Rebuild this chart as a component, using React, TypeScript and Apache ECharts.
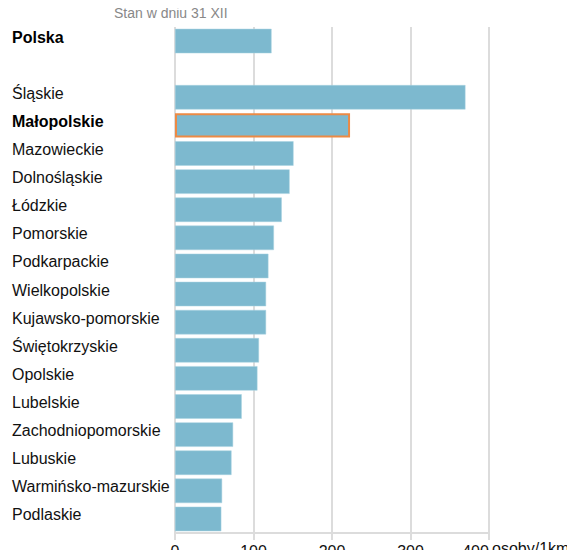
import React, { useEffect, useRef } from "react";
import * as echarts from "echarts";

const categories: string[] = [
  "Polska",
  " ",
  "Śląskie",
  "Małopolskie",
  "Mazowieckie",
  "Dolnośląskie",
  "Łódzkie",
  "Pomorskie",
  "Podkarpackie",
  "Wielkopolskie",
  "Kujawsko-pomorskie",
  "Świętokrzyskie",
  "Opolskie",
  "Lubelskie",
  "Zachodniopomorskie",
  "Lubuskie",
  "Warmińsko-mazurskie",
  "Podlaskie",
];

const values: (number | null)[] = [
  123, null, 370, 223, 151, 146, 136, 126, 119, 116, 116, 107, 105, 85, 74, 72, 60, 59,
];

const boldLabels: string[] = ["Polska", "Małopolskie"];
const highlighted: string = "Małopolskie";
const xTicks: number[] = [0, 100, 200, 300, 400];
const subtitle = "Stan w dniu 31 XII";
const unitName = "osoby/1km{sup|2}";

export default function App() {
  const ref = useRef<HTMLDivElement>(null);

  useEffect(() => {
    if (!ref.current) return;
    const chart = echarts.init(ref.current, undefined, { renderer: "svg" });
    const fontFamily = "Liberation Sans, Arial, sans-serif";
    const xMax = xTicks[xTicks.length - 1];
    chart.setOption({
      animation: false,
      textStyle: { fontFamily },
      graphic: [
        {
          type: "text",
          left: 114,
          top: 6,
          style: {
            text: subtitle,
            fill: "#888888",
            font: `14px ${fontFamily}`,
          },
        },
      ],
      grid: {
        left: 175,
        right: 86,
        top: 27,
        bottom: 25,
        containLabel: false,
        outerBoundsMode: "none",
      },
      xAxis: {
        type: "value",
        min: xTicks[0],
        max: xMax,
        interval: 100,
        axisLine: { show: true, lineStyle: { color: "#dcdcdc", width: 2 } },
        axisTick: { show: true, length: 7, lineStyle: { color: "#dcdcdc", width: 2 } },
        splitLine: { show: true, lineStyle: { color: "#dcdcdc", width: 2 } },
        axisLabel: {
          color: "#111",
          fontSize: 16,
          margin: 10,
          fontFamily,
          hideOverlap: false,
          formatter: (v: number) => (v === xMax ? `{last|${v}}` : `${v}`),
          rich: {
            last: { fontSize: 16, color: "#111", fontFamily, padding: [0, 27, 0, 0] },
          },
        },
        name: unitName,
        nameLocation: "end",
        nameGap: 3,
        nameMoveOverlap: false,
        nameTextStyle: {
          color: "#111",
          fontSize: 16,
          fontFamily,
          verticalAlign: "top",
          padding: [7, 0, 0, 0],
          rich: {
            sup: { fontSize: 10, verticalAlign: "top", color: "#111", fontFamily },
          },
        },
      },
      yAxis: {
        type: "category",
        data: categories,
        inverse: true,
        axisLine: { show: false },
        axisTick: { show: false },
        splitLine: { show: false },
        axisLabel: {
          align: "left",
          margin: 163,
          color: "#111",
          fontSize: 16,
          fontFamily,
          padding: [0, 0, 8, 0],
          formatter: (v: string) => (boldLabels.includes(v) ? `{b|${v}}` : v),
          rich: {
            b: { fontWeight: "bold", fontSize: 16, color: "#000", fontFamily },
          },
        },
      },
      series: [
        {
          type: "bar",
          barWidth: "87%",
          data: values.map((v, i) =>
            categories[i] === highlighted
              ? {
                  value: v,
                  itemStyle: { color: "#7db9cf", borderColor: "#ec8a45", borderWidth: 2 },
                }
              : { value: v }
          ),
          itemStyle: { color: "#7db9cf", borderColor: "#a9d2e0", borderWidth: 0.5 },
        },
      ],
    });
    return () => chart.dispose();
  }, []);

  return <div ref={ref} style={{ width: 575, height: 558, margin: -8 }} />;
}
